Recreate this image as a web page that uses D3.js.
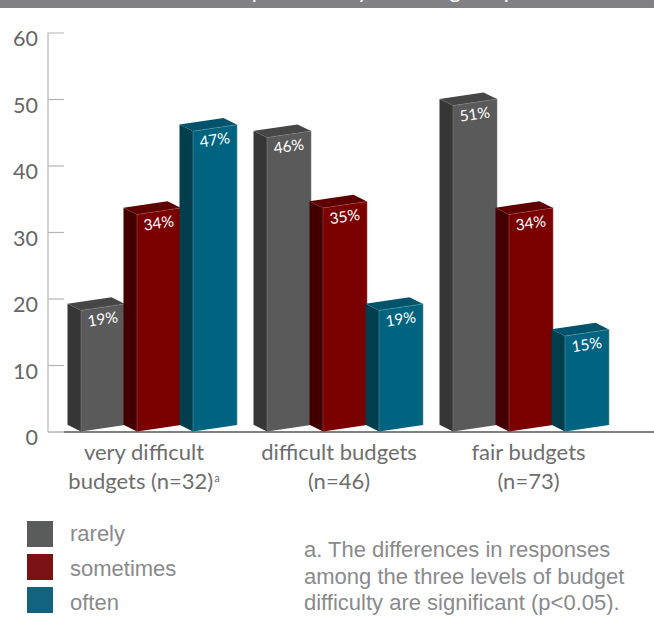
<!DOCTYPE html>
<html>
<head>
<meta charset="utf-8">
<script src="https://cdn.jsdelivr.net/npm/d3@7/dist/d3.min.js"></script>
<style>
  html, body { margin: 0; padding: 0; background: #fff; }
  svg { display: block; }
</style>
</head>
<body>
<svg id="chart" width="654" height="627"></svg>
<script>
const categories = ["very difficult budgets", "difficult budgets", "fair budgets"];
const categoryLines = [["very difficult", "budgets (n=32)"], ["difficult budgets", "(n=46)"], ["fair budgets", "(n=73)"]];
const seriesNames = ["rarely", "sometimes", "often"];
const rarely = [19, 46, 51];
const sometimes = [34, 35, 34];
const often = [47, 19, 15];
const yTicks = [0, 10, 20, 30, 40, 50, 60];
const footnote = ["a. The differences in responses", "among the three levels of budget", "difficulty are significant (p<0.05)."];
const headerGlyphs = ["p", "y", "g", "p"];

const seriesValues = [rarely, sometimes, often];
const faces = [
  { front: "#5a5a5a", side: "#363636", top: "#464646", edge: "#7c7c7c", key: "#5a5c5c" },
  { front: "#7b0000", side: "#420000", top: "#5e0000", edge: "#a04a4a", key: "#7a1214" },
  { front: "#00637f", side: "#003e4e", top: "#00536b", edge: "#5a93a6", key: "#13637f" }
];

const labelFont = "Lato, 'Open Sans', sans-serif";
const noteFont = "'Liberation Sans', Arial, sans-serif";
const svg = d3.select("#chart");

// Header band, its caption running off the top edge of the page
svg.append("rect").attr("width", 654).attr("height", 8).attr("fill", "#808085");
svg.append("g").selectAll("text").data(headerGlyphs).join("text")
  .attr("x", (d, i) => [258, 363, 455, 510][i]).attr("y", -2)
  .attr("text-anchor", "middle")
  .attr("font-family", labelFont).attr("font-size", 22).attr("fill", "#fff")
  .text(d => d);

// Axis scale, and the slightly shorter scale of the bars' front plane
const yAxis = d3.scaleLinear().domain([0, 60]).range([432, 33]);
const yBar = d3.scaleLinear().domain([0, 60]).range([432, 48]);

const x0 = d3.scaleBand().domain(categories).range([81, 621]).paddingInner(18 / 186).paddingOuter(0).align(0);
const x1 = d3.scaleBand().domain(seriesNames).range([0, x0.bandwidth()]);

const barW = 44, depthX = 13.5, depthY = 6.7, skew = 6.5;

const axis = svg.append("g");
axis.append("path")
  .attr("d", `M64,${yAxis(60)}H48V${yAxis(0)}`)
  .attr("fill", "none").attr("stroke", "#b4b4b4").attr("stroke-width", 1.2);
axis.selectAll("line.tick").data(yTicks.filter(t => t > 0 && t < 60)).join("line")
  .attr("class", "tick")
  .attr("x1", 48).attr("x2", 64)
  .attr("y1", d => yAxis(d)).attr("y2", d => yAxis(d))
  .attr("stroke", "#b4b4b4").attr("stroke-width", 1.2);
axis.selectAll("text").data(yTicks).join("text")
  .attr("x", 38).attr("y", d => yAxis(d) + 13)
  .attr("text-anchor", "end")
  .attr("font-family", labelFont).attr("font-size", 21.5).attr("fill", "#666")
  .text(d => d);

// Baseline under the bars
axis.append("line").attr("x1", 48).attr("x2", 64).attr("y1", yAxis(0)).attr("y2", yAxis(0))
  .attr("stroke", "#b4b4b4").attr("stroke-width", 1.5);
axis.append("line").attr("x1", 64).attr("x2", 654).attr("y1", yAxis(0)).attr("y2", yAxis(0))
  .attr("stroke", "#555").attr("stroke-width", 1.5);

// Flattened bar records, drawn left to right so later bars overlap earlier ones
const bars = categories.flatMap((c, i) => seriesNames.map((s, j) => ({
  cat: c, series: s, j, value: seriesValues[j][i]
})));

svg.append("g").selectAll("g").data(bars).join("g").each(function (d) {
  const g = d3.select(this);
  const f = faces[d.j];
  const xl = x0(d.cat) + x1(d.series);
  const xr = xl + barW;
  const yt = yBar(d.value), yb = yBar(0) - 0.5;
  const poly = pts => pts.map(p => p.join(",")).join(" ");
  // Left side face
  g.append("polygon").attr("fill", f.side)
    .attr("points", poly([[xl - depthX, yt - depthY], [xl, yt], [xl, yb], [xl - depthX, yb - depthY]]));
  // Top face
  g.append("polygon").attr("fill", f.top)
    .attr("points", poly([[xl - depthX, yt - depthY], [xr - depthX, yt - depthY - skew], [xr, yt - skew], [xl, yt]]));
  // Front face
  g.append("polygon").attr("fill", f.front)
    .attr("points", poly([[xl, yt], [xr, yt - skew], [xr, yb - skew], [xl, yb]]));
  // Highlighted edges of the front face
  g.append("polyline").attr("fill", "none").attr("stroke", f.edge).attr("stroke-width", 0.6)
    .attr("points", poly([[xl, yb], [xl, yt], [xr, yt - skew], [xr, yb - skew]]));
  // Value label, tilted to lie on the front face
  const lx = xl + barW / 2 + 0.5, ly = yt + 14;
  g.append("text")
    .attr("transform", `translate(${lx},${ly}) rotate(-8.5)`)
    .attr("text-anchor", "middle")
    .attr("font-family", labelFont).attr("font-size", 15.5).attr("fill", "#fff")
    .text(d.value + "%");
});

// Category labels
const catLabels = svg.append("g").selectAll("text").data(categories).join("text")
  .attr("text-anchor", "middle")
  .attr("font-family", labelFont).attr("font-size", 22).attr("fill", "#6e6e6e");
catLabels.each(function (c, i) {
  const t = d3.select(this);
  const cx = [144, 339, 528.5][i];
  categoryLines[i].forEach((line, k) => {
    t.append("tspan").attr("x", cx).attr("y", 460 + k * 29).text(line);
  });
  if (i === 0) {
    t.append("tspan").attr("dx", 1).attr("dy", -7).attr("font-size", 11).text("a");
  }
});

// Legend
const legend = svg.append("g").selectAll("g").data(seriesNames).join("g")
  .attr("transform", (d, i) => `translate(0,${[521, 554, 587][i]})`);
legend.append("rect").attr("x", 27).attr("y", 0).attr("width", 26).attr("height", 26)
  .attr("fill", (d, i) => faces[i].key);
legend.append("text").attr("x", 70).attr("y", (d, i) => [20, 22, 23][i])
  .attr("font-family", noteFont).attr("font-size", 22).attr("fill", "#8a8a8c")
  .text(d => d);

// Footnote
svg.append("g").selectAll("text").data(footnote).join("text")
  .attr("x", 304).attr("y", (d, i) => 557 + i * 26.5)
  .attr("font-family", noteFont).attr("font-size", 22).attr("fill", "#8a8a8c")
  .text(d => d);
</script>
</body>
</html>
